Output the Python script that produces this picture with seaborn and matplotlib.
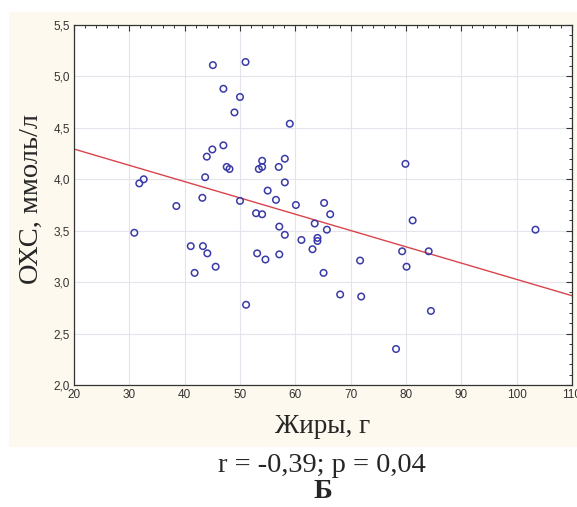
import numpy as np
import pandas as pd
import seaborn as sb
import matplotlib.pyplot as plt
from matplotlib.patches import Rectangle
from matplotlib.ticker import MultipleLocator, FuncFormatter

# fat intake (g) and total cholesterol (mmol/l)
fat = [45.1, 51.0, 47.0, 50.0, 49.0, 59.0, 47.0, 45.0, 44.0, 54.0,
       58.1, 54.0, 53.4, 57.0, 47.6, 48.1, 43.7, 31.8, 32.6, 58.1,
       55.0, 43.2, 50.0, 56.5, 60.1, 38.5, 30.9, 52.9, 54.0, 57.1,
       58.1, 41.1, 43.3, 44.1, 53.1, 57.1, 54.6, 45.6, 41.8, 51.1,
       61.1, 63.1, 63.5, 64.0, 64.0, 65.2, 66.3, 65.7, 65.1, 68.1,
       71.9, 71.7, 81.2, 79.3, 84.1, 80.1, 84.5, 78.2, 103.4, 79.9]
chol = [5.11, 5.14, 4.88, 4.80, 4.65, 4.54, 4.33, 4.29, 4.22, 4.18,
        4.20, 4.12, 4.10, 4.12, 4.12, 4.10, 4.02, 3.96, 4.00, 3.97,
        3.89, 3.82, 3.79, 3.80, 3.75, 3.74, 3.48, 3.67, 3.66, 3.54,
        3.46, 3.35, 3.35, 3.28, 3.28, 3.27, 3.22, 3.15, 3.09, 2.78,
        3.41, 3.32, 3.57, 3.43, 3.40, 3.77, 3.66, 3.51, 3.09, 2.88,
        2.86, 3.21, 3.60, 3.30, 3.30, 3.15, 2.72, 2.35, 3.51, 4.15]

df = pd.DataFrame({'fat': fat, 'chol': chol})

sb.set_style('white')
plt.rcParams['font.family'] = ['Liberation Sans', 'DejaVu Sans']

fig = plt.figure(figsize=(5.77, 5.07), dpi=100)
# cream panel behind the chart
fig.patches.append(Rectangle((9 / 577, 1 - 447 / 507), 1, (447 - 12) / 507,
                             transform=fig.transFigure, facecolor='#fdf9ee',
                             edgecolor='none', zorder=-5))
ax = fig.add_axes([74 / 577, 1 - 385 / 507, 498 / 577, 360 / 507])
ax.set_facecolor('white')

ax.set_xlim(20, 110)
ax.set_ylim(2.0, 5.5)

sb.regplot(x='fat', y='chol', data=df, ax=ax, scatter=False, ci=None,
           truncate=False, line_kws={'color': '#d9444c', 'lw': 1})
sb.scatterplot(x='fat', y='chol', data=df, ax=ax, marker='o', s=22,
               facecolor='none', edgecolor='#3a3aa8', linewidth=1.1, zorder=3)

ax.set_xlim(20, 110)
ax.set_ylim(2.0, 5.5)
ax.xaxis.set_major_locator(MultipleLocator(10))
ax.xaxis.set_minor_locator(MultipleLocator(2))
ax.yaxis.set_major_locator(MultipleLocator(0.5))
ax.yaxis.set_minor_locator(MultipleLocator(0.1))
ax.yaxis.set_major_formatter(FuncFormatter(lambda v, p: f'{v:.1f}'.replace('.', ',')))
ax.grid(True, which='major', color='#e4e4ec', lw=0.8)
ax.tick_params(which='both', direction='in', top=True, right=True,
               labelsize=8.5, labelcolor='#333333', color='#333333', pad=3)
ax.tick_params(which='major', length=4, width=0.8)
ax.tick_params(which='minor', length=2.5, width=0.7)
for s in ax.spines.values():
    s.set_color('#333333')
    s.set_linewidth(0.9)

ax.set_xlabel('Жиры, г', family='Liberation Serif', fontsize=19.5, labelpad=9)
ax.set_ylabel('ОХС, ммоль/л', family='Liberation Serif', fontsize=20.5, labelpad=7)
ax.yaxis.label.set_y(0.517)

fig.text(0.558, 1 - 466 / 507, 'r = -0,39; p = 0,04', family='Liberation Serif',
         fontsize=20.5, ha='center', va='center')
fig.text(0.559, 1 - 492 / 507, 'Б', family='Liberation Serif', fontsize=20.5,
         weight='bold', ha='center', va='center')

fig.savefig('out.png', dpi=100)
